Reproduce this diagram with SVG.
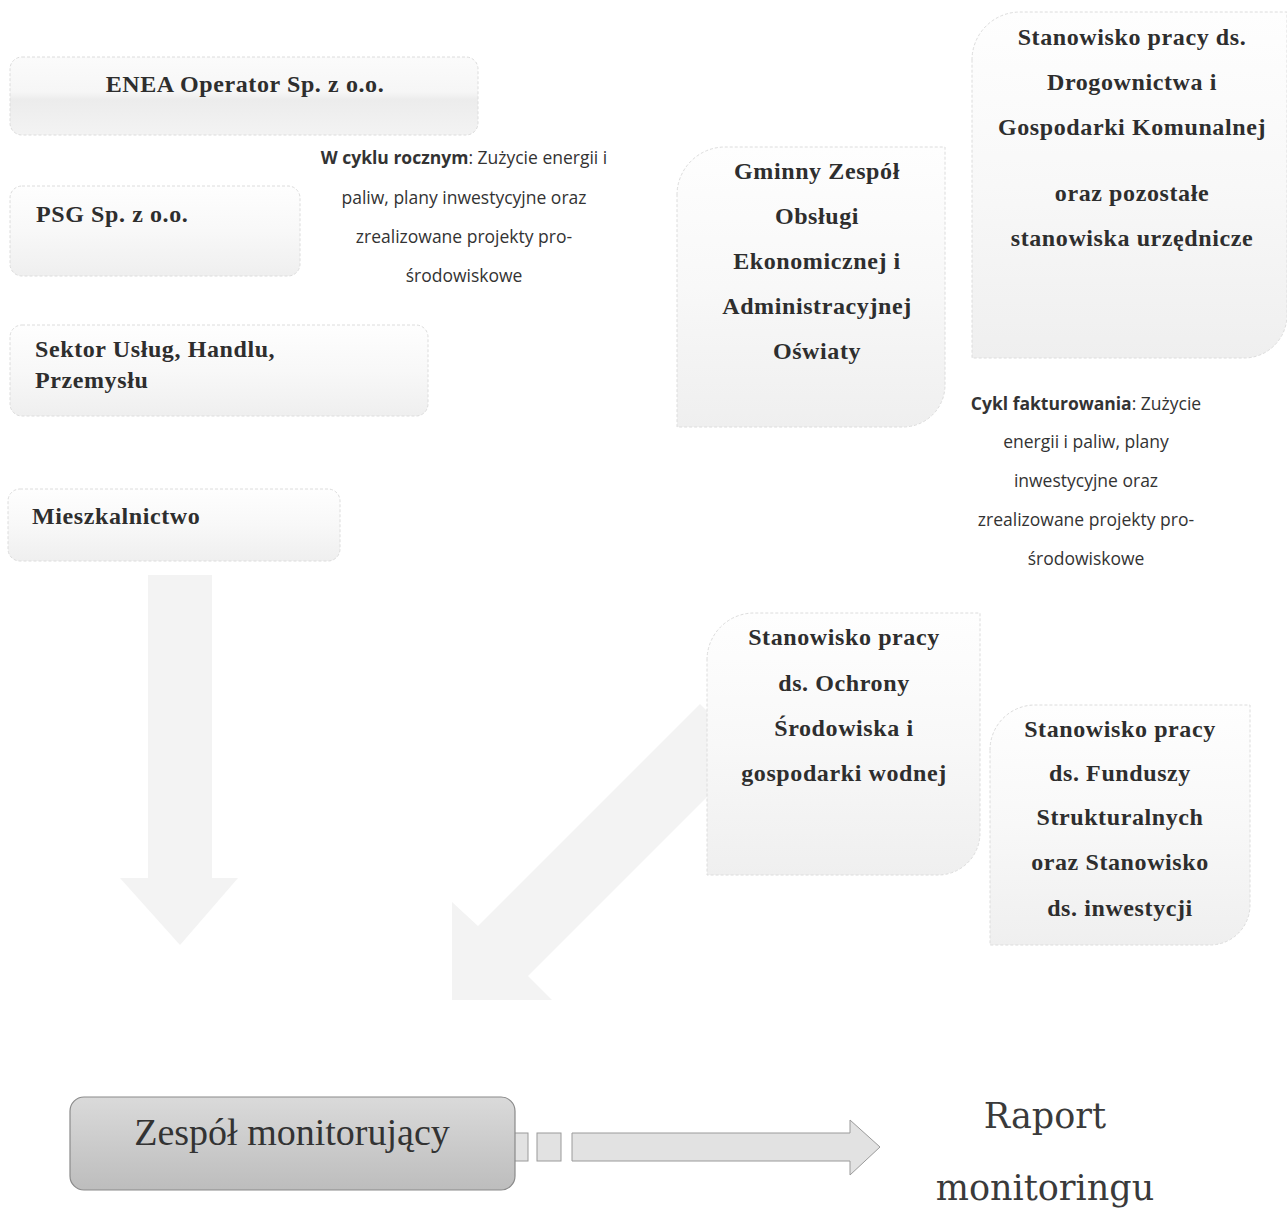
<svg xmlns="http://www.w3.org/2000/svg" width="1287" height="1208" viewBox="0 0 1287 1208">
<defs>
<linearGradient id="boxg" x1="0" y1="0" x2="0" y2="1">
<stop offset="0" stop-color="#fefefe"/>
<stop offset="0.5" stop-color="#f8f8f8"/>
<stop offset="1" stop-color="#efefef"/>
</linearGradient>
<linearGradient id="boxg2" x1="0" y1="0" x2="0" y2="1">
<stop offset="0" stop-color="#fbfbfb"/>
<stop offset="0.45" stop-color="#f6f6f6"/>
<stop offset="0.55" stop-color="#ececec"/>
<stop offset="1" stop-color="#f3f3f3"/>
</linearGradient>
<linearGradient id="darkg" x1="0" y1="0" x2="0" y2="1">
<stop offset="0" stop-color="#dadada"/>
<stop offset="1" stop-color="#bdbdbd"/>
</linearGradient>
</defs>
<style>
.box{fill:url(#boxg);stroke:#dcdcdc;stroke-width:1;stroke-dasharray:3 2}
.node{font-family:"Liberation Serif","DejaVu Serif",serif;font-weight:bold;font-size:24px;letter-spacing:0.6px;fill:#2e2e2e}
.c{text-anchor:middle}
.note{font-family:"Open Sans","Liberation Sans",sans-serif;font-size:17.5px;fill:#333;text-anchor:middle}
.arr{fill:#f3f3f3;stroke:none}
.harr{fill:#e2e2e2;stroke:#9a9a9a;stroke-width:1}
</style>
<rect width="1287" height="1208" fill="#ffffff"/>

<g id="connectors">
<path class="arr" d="M148,575 H212 V878 H238 L180,945 L120,878 H148 Z"/>
<path class="arr" d="M452,1000 L452,902 L478,926 L700,704 L750,754 L528,976 L552,1000 Z"/>
<rect class="harr" x="514" y="1133" width="14" height="28"/>
<rect class="harr" x="537" y="1133" width="24" height="28"/>
<path class="harr" d="M572,1133 H850 V1120 L880,1147 L850,1175 V1161 H572 Z"/>
</g>

<g id="enea">
<rect class="box" x="10" y="57" width="468" height="78" rx="12" style="fill:url(#boxg2)"/>
<text class="node c" x="245" y="92">ENEA Operator Sp. z o.o.</text>
</g>

<g id="psg">
<rect class="box" x="10" y="186" width="290" height="90" rx="12"/>
<text class="node" x="36" y="222">PSG Sp. z o.o.</text>
</g>

<g id="sektor">
<rect class="box" x="10" y="325" width="418" height="91" rx="12"/>
<text class="node" x="35" y="357">Sektor Usług, Handlu,</text>
<text class="node" x="35" y="388">Przemysłu</text>
</g>

<g id="mieszkalnictwo">
<rect class="box" x="8" y="489" width="332" height="72" rx="12"/>
<text class="node" x="32" y="524">Mieszkalnictwo</text>
</g>

<g id="note-roczny">
<text class="note" x="464" y="164"><tspan font-weight="bold">W cyklu rocznym</tspan>: Zużycie energii i</text>
<text class="note" x="464" y="204">paliw, plany inwestycyjne oraz</text>
<text class="note" x="464" y="243">zrealizowane projekty pro-</text>
<text class="note" x="464" y="282">środowiskowe</text>
</g>

<g id="gminny">
<path class="box" d="M677,195 A48,48 0 0 1 725,147 H945 V385 A42,42 0 0 1 903,427 H677 Z"/>
<text class="node c" x="817" y="179">Gminny Zespół</text>
<text class="node c" x="817" y="224">Obsługi</text>
<text class="node c" x="817" y="269">Ekonomicznej i</text>
<text class="node c" x="817" y="314">Administracyjnej</text>
<text class="node c" x="817" y="359">Oświaty</text>
</g>

<g id="drogownictwo">
<path class="box" d="M972,60 A48,48 0 0 1 1020,12 H1287 V315 A43,43 0 0 1 1244,358 H972 Z"/>
<text class="node c" x="1132" y="45">Stanowisko pracy ds.</text>
<text class="node c" x="1132" y="90">Drogownictwa i</text>
<text class="node c" x="1132" y="135">Gospodarki Komunalnej</text>
<text class="node c" x="1132" y="201">oraz pozostałe</text>
<text class="node c" x="1132" y="246">stanowiska urzędnicze</text>
</g>

<g id="note-fakturowanie">
<text class="note" x="1086" y="410"><tspan font-weight="bold">Cykl fakturowania</tspan>: Zużycie</text>
<text class="note" x="1086" y="448">energii i paliw, plany</text>
<text class="note" x="1086" y="487">inwestycyjne oraz</text>
<text class="note" x="1086" y="526">zrealizowane projekty pro-</text>
<text class="note" x="1086" y="565">środowiskowe</text>
</g>

<g id="ochrona">
<path class="box" d="M707,660 A47,47 0 0 1 754,613 H980 V833 A42,42 0 0 1 938,875 H707 Z"/>
<text class="node c" x="844" y="645">Stanowisko pracy</text>
<text class="node c" x="844" y="691">ds. Ochrony</text>
<text class="node c" x="844" y="736">Środowiska i</text>
<text class="node c" x="844" y="781">gospodarki wodnej</text>
</g>

<g id="fundusze">
<path class="box" d="M990,750 A45,45 0 0 1 1035,705 H1250 V905 A40,40 0 0 1 1210,945 H990 Z"/>
<text class="node c" x="1120" y="737">Stanowisko pracy</text>
<text class="node c" x="1120" y="781">ds. Funduszy</text>
<text class="node c" x="1120" y="825">Strukturalnych</text>
<text class="node c" x="1120" y="870">oraz Stanowisko</text>
<text class="node c" x="1120" y="916">ds. inwestycji</text>
</g>

<g id="zespol">
<rect x="70" y="1097" width="445" height="93" rx="14" fill="url(#darkg)" stroke="#8a8a8a" stroke-width="1.2"/>
<text x="292" y="1145" text-anchor="middle" font-family="Liberation Serif, DejaVu Serif, serif" font-size="38" fill="#333">Zespół monitorujący</text>
</g>

<g id="raport">
<text x="1045" y="1128" text-anchor="middle" font-family="DejaVu Serif, Liberation Serif, serif" font-size="35" fill="#3a3a3a">Raport</text>
<text x="1045" y="1200" text-anchor="middle" font-family="DejaVu Serif, Liberation Serif, serif" font-size="35" fill="#3a3a3a">monitoringu</text>
</g>
</svg>
